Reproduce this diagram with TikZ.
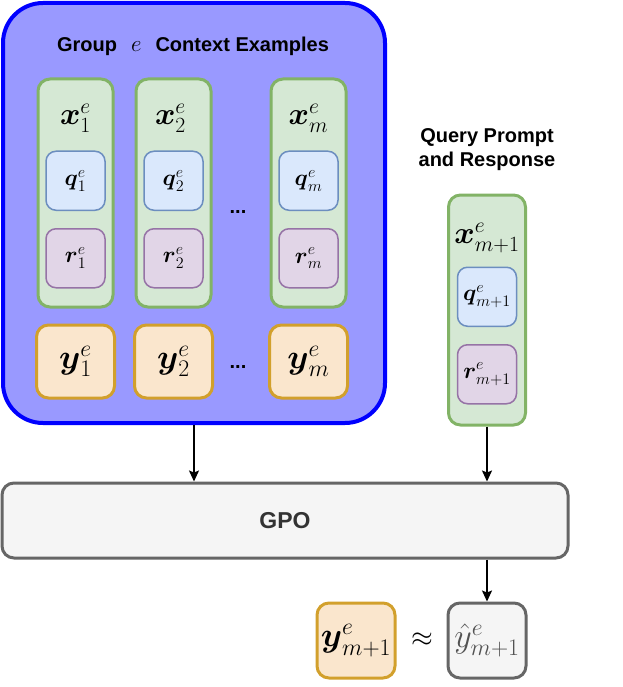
\RequirePackage{fix-cm}
\documentclass[tikz,border=0pt]{standalone}
\usepackage{amsmath}
\usepackage{fontspec}
\setsansfont{Liberation Sans}
\usepackage{xcolor}
\definecolor{groupBlue}{HTML}{0000FF}
\definecolor{groupFill}{HTML}{9999FF}
\definecolor{colGreen}{HTML}{82B366}
\definecolor{colFill}{HTML}{D5E8D4}
\definecolor{qBlue}{HTML}{6C8EBF}
\definecolor{qFill}{HTML}{DAE8FC}
\definecolor{rPurple}{HTML}{9673A6}
\definecolor{rFill}{HTML}{E1D5E7}
\definecolor{yGold}{HTML}{D2A02C}
\definecolor{yFill}{HTML}{FAE6CD}
\definecolor{gpoGrey}{HTML}{666666}
\definecolor{gpoFill}{HTML}{F5F5F5}
\definecolor{darkText}{HTML}{333333}
\usepackage{tikz}
\usetikzlibrary{arrows.meta}
\tikzset{arrow/.style = {> = {Stealth[length = 11pt, width = 10pt, inset = 2pt]}, line width = 1.5pt}}
\usetikzlibrary{positioning}

\begin{document}
\begin{tikzpicture}[x = 1pt, y = -1pt,
	groupbox/.style = {rectangle, draw = groupBlue, line width = 4pt, fill = groupFill, rounded corners = 40pt, minimum width = 382pt, minimum height = 420pt},
	column/.style = {rectangle, draw = colGreen, line width = 3pt, fill = colFill, rounded corners = 12pt, minimum width = 75pt, minimum height = 228pt, inner sep = 0pt},
	prompt/.style = {rectangle, draw = qBlue, line width = 1.5pt, fill = qFill, rounded corners = 10pt, minimum width = 59pt, minimum height = 59pt, inner sep = 0pt, font = \fontsize{23}{26}\selectfont},
	response/.style = {prompt, draw = rPurple, fill = rFill},
	answer/.style = {rectangle, draw = yGold, line width = 3pt, fill = yFill, rounded corners = 12pt, minimum width = 78pt, minimum height = 73pt, inner sep = 0pt, font = \fontsize{34}{38}\selectfont},
	varname/.style = {inner sep = 0pt, font = \fontsize{31}{35}\selectfont},
	heading/.style = {font = \fontsize{20}{24}\selectfont\sffamily\bfseries, align = center},
	dots/.style = {font = \fontsize{20}{24}\selectfont\sffamily\bfseries}]
	\useasboundingbox (0, 0) rectangle (622, 687);

	%% Context group
	\node[groupbox] (group) at (194, 213) {};
	\node[heading] (grouptitle) at (193, 46) {Group\hspace{14pt}\mdseries\fontsize{23}{24}\selectfont$e$\hspace{14pt}\fontsize{20}{24}\selectfont\bfseries Context Examples};

	%% Context columns
	\node[column] (col1) at (75.5, 193) {};
	\node[column, right = 20pt of col1] (col2) {};
	\node[column] (colm) at (308.5, 193) {};

	\node[varname] (x1) at (75.5, 118) {$\boldsymbol{x}^{e}_{1}$};
	\node[varname] (x2) at (170.5, 118) {$\boldsymbol{x}^{e}_{2}$};
	\node[varname] (xm) at (308.5, 118) {$\boldsymbol{x}^{e}_{m}$};

	\node[prompt, below = 73pt of col1.north] (q1) {$\boldsymbol{q}^{e}_{1}$};
	\node[prompt, below = 73pt of col2.north] (q2) {$\boldsymbol{q}^{e}_{2}$};
	\node[prompt, below = 73pt of colm.north] (qm) {$\boldsymbol{q}^{e}_{m}$};

	\node[response, below = 17pt of q1] (r1) {$\boldsymbol{r}^{e}_{1}$};
	\node[response, below = 17pt of q2] (r2) {$\boldsymbol{r}^{e}_{2}$};
	\node[response, below = 17pt of qm] (rm) {$\boldsymbol{r}^{e}_{m}$};

	\node[answer, below = 15pt of col1] (y1) {$\boldsymbol{y}^{e}_{1}$};
	\node[answer, below = 15pt of col2] (y2) {$\boldsymbol{y}^{e}_{2}$};
	\node[answer, below = 15pt of colm] (ym) {$\boldsymbol{y}^{e}_{m}$};

	\node[dots] (coldots) at (238, 212) {...};
	\node[dots] (ydots) at (238, 367) {...};

	%% Query
	\node[heading] (querytitle) at (487, 150) {Query Prompt\\and Response};
	\node[column, minimum width = 77pt, minimum height = 230pt] (query) at (487, 310) {};
	\node[varname] (xq) at (487, 238) {$\boldsymbol{x}^{e}_{m+1}$};
	\node[prompt, below = 73pt of query.north] (qq) {$\boldsymbol{q}^{e}_{m+1}$};
	\node[response, below = 17pt of qq] (rq) {$\boldsymbol{r}^{e}_{m+1}$};

	%% Model
	\node[rectangle, draw = gpoGrey, line width = 3pt, fill = gpoFill, rounded corners = 12pt, minimum width = 566pt, minimum height = 75pt, text = darkText, font = \fontsize{23}{27}\selectfont\sffamily\bfseries] (gpo) at (285, 520.5) {GPO};

	%% Prediction
	\node[answer, minimum height = 75pt] (ytrue) at (356, 640.5) {$\boldsymbol{y}^{e}_{m+1}$};
	\node[font = \fontsize{28}{30}\selectfont] (approx) at (422, 640) {$\approx$};
	\node[answer, minimum height = 75pt, draw = gpoGrey, fill = gpoFill, text = darkText!85!white] (ypred) at (487, 640.5) {$\hat{y}^{e}_{m+1}$};

	%% Arrows
	\draw[->, arrow] (group.south) -- (group.south |- gpo.north);
	\draw[->, arrow] (query.south) -- (query.south |- gpo.north);
	\draw[->, arrow] (ypred.north |- gpo.south) -- (ypred.north);
\end{tikzpicture}
\end{document}
